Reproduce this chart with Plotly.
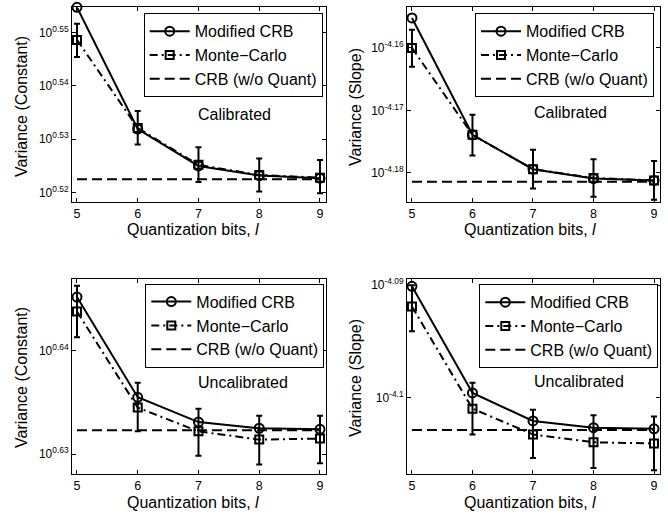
import plotly.graph_objects as go

bits = [5, 6, 7, 8, 9]

# log10 exponents
cal_const_mod = [0.5547, 0.5319, 0.5250, 0.5232, 0.5227]
cal_const_mc = [0.5486, 0.5321, 0.5252, 0.5233, 0.5228]
cal_const_hi = [0.5516, 0.5353, 0.5285, 0.5264, 0.5261]
cal_const_lo = [0.5454, 0.5290, 0.5220, 0.5202, 0.5199]
cal_const_crb = 0.5225

cal_slope_mod = [-4.1552, -4.1739, -4.1794, -4.1809, -4.1812]
cal_slope_mc = [-4.1600, -4.1739, -4.1794, -4.1808, -4.1812]
cal_slope_hi = [-4.1571, -4.1707, -4.1763, -4.1778, -4.1781]
cal_slope_lo = [-4.1630, -4.1772, -4.1825, -4.1838, -4.1843]
cal_slope_crb = -4.1814

unc_const_mod = [0.6452, 0.6355, 0.6331, 0.6325, 0.6324]
unc_const_mc = [0.6438, 0.6345, 0.6322, 0.6314, 0.6315]
unc_const_hi = [0.6463, 0.6369, 0.6344, 0.6337, 0.6337]
unc_const_lo = [0.6413, 0.6322, 0.62985, 0.6290, 0.6291]
unc_const_crb = 0.6323

unc_slope_mod = [-4.0901, -4.0996, -4.1021, -4.1027, -4.1028]
unc_slope_mc = [-4.0919, -4.1010, -4.1033, -4.1040, -4.1041]
unc_slope_hi = [-4.0900, -4.0987, -4.1011, -4.1016, -4.1017]
unc_slope_lo = [-4.0941, -4.1033, -4.1054, -4.1063, -4.1065]
unc_slope_crb = -4.1029

cal_const_ticks = [0.52, 0.53, 0.54, 0.55]
cal_slope_ticks = [-4.18, -4.17, -4.16]
unc_const_ticks = [0.63, 0.64]
unc_slope_ticks = [-4.1, -4.09]

series_names = ["Modified CRB", "Monte\u2212Carlo", "CRB (w/o Quant)"]
panel_labels = ["Calibrated", "Calibrated", "Uncalibrated", "Uncalibrated"]
y_titles = ["Variance (Constant)", "Variance (Slope)", "Variance (Constant)", "Variance (Slope)"]
x_title = "Quantization bits, <i>l</i>"

W, H = 668, 514
FONT = "Liberation Sans, Arial, sans-serif"

panels = [
    dict(mod=cal_const_mod, mc=cal_const_mc, hi=cal_const_hi, lo=cal_const_lo, crb=cal_const_crb,
         ticks=cal_const_ticks, rng=[0.5183, 0.5547], px=(72, 326), py=(7.3, 201.7),
         leg=(322.7, 13.3), lab=(234, 114), xt=(193, 230), yt=(21, 107)),
    dict(mod=cal_slope_mod, mc=cal_slope_mc, hi=cal_slope_hi, lo=cal_slope_lo, crb=cal_slope_crb,
         ticks=cal_slope_ticks, rng=[-4.1846, -4.1535], px=(407, 660), py=(7.3, 201.7),
         leg=(654, 13.3), lab=(570, 112), xt=(530, 230), yt=(355, 107)),
    dict(mod=unc_const_mod, mc=unc_const_mc, hi=unc_const_hi, lo=unc_const_lo, crb=unc_const_crb,
         ticks=unc_const_ticks, rng=[0.6281, 0.6470], px=(72, 326), py=(278.5, 473.7),
         leg=(324.3, 283.7), lab=(243, 382), xt=(193, 502), yt=(21, 378)),
    dict(mod=unc_slope_mod, mc=unc_slope_mc, hi=unc_slope_hi, lo=unc_slope_lo, crb=unc_slope_crb,
         ticks=unc_slope_ticks, rng=[-4.1068, -4.0894], px=(407, 660), py=(278.5, 473.7),
         leg=(658.3, 284.3), lab=(579, 381), xt=(530, 502), yt=(355, 378)),
]

fig = go.Figure()
layout = dict(
    width=W, height=H, margin=dict(l=0, r=0, t=0, b=0),
    paper_bgcolor="white", plot_bgcolor="white",
    font=dict(family=FONT, color="black"),
    showlegend=True,
)
annotations = []

for i, p in enumerate(panels):
    n = i + 1
    xa = "x" if n == 1 else f"x{n}"
    ya = "y" if n == 1 else f"y{n}"
    lg = "legend" if n == 1 else f"legend{n}"
    mod = [10 ** v for v in p["mod"]]
    mc = [10 ** v for v in p["mc"]]
    up = [10 ** h - 10 ** v for h, v in zip(p["hi"], p["mc"])]
    dn = [10 ** v - 10 ** l for l, v in zip(p["lo"], p["mc"])]
    crb = [10 ** p["crb"]] * len(bits)

    fig.add_trace(go.Scatter(
        x=bits, y=mod, name=series_names[0], mode="lines+markers", xaxis=xa, yaxis=ya, legend=lg,
        line=dict(color="black", width=2),
        marker=dict(symbol="circle-open", size=9, color="black", line=dict(width=2)),
        cliponaxis=False))
    fig.add_trace(go.Scatter(
        x=bits, y=mc, name=series_names[1], mode="lines+markers", xaxis=xa, yaxis=ya, legend=lg,
        line=dict(color="black", width=2, dash="8px,4px,2px,4px"),
        marker=dict(symbol="square-open", size=8, color="black", line=dict(width=2)),
        error_y=dict(type="data", array=up, arrayminus=dn, color="black", thickness=2, width=3),
        cliponaxis=False))
    fig.add_trace(go.Scatter(
        x=bits, y=crb, name=series_names[2], mode="lines", xaxis=xa, yaxis=ya, legend=lg,
        line=dict(color="black", width=2, dash="10px,5px")))

    x0, x1 = p["px"]
    yt, yb = p["py"]
    axkey_x = "xaxis" if n == 1 else f"xaxis{n}"
    axkey_y = "yaxis" if n == 1 else f"yaxis{n}"
    layout[axkey_x] = dict(
        domain=[x0 / W, x1 / W], anchor=ya, range=[4.918, 9.099],
        tickvals=bits, ticks="inside", ticklen=4, tickcolor="black",
        showline=True, linecolor="black", linewidth=1, mirror="ticks",
        showgrid=False, zeroline=False, automargin=False,
        tickfont=dict(size=12.5, family=FONT),
    )
    layout[axkey_y] = dict(
        domain=[1 - yb / H, 1 - yt / H], anchor=xa, type="log", range=p["rng"],
        tickvals=[10 ** t for t in p["ticks"]],
        ticktext=[f"10<sup>{t:g}</sup>" for t in p["ticks"]],
        ticks="inside", ticklen=4, tickcolor="black",
        showline=True, linecolor="black", linewidth=1, mirror="ticks",
        showgrid=False, zeroline=False, automargin=False,
        tickfont=dict(size=12, family=FONT),
    )
    lx, ly = p["leg"]
    layout[lg] = dict(
        x=lx / W, y=1 - ly / H, xanchor="right", yanchor="top", xref="paper", yref="paper",
        bgcolor="white", bordercolor="black", borderwidth=1,
        font=dict(size=16, family=FONT), itemwidth=40, tracegroupgap=0,
    )
    ax, ay = p["lab"]
    annotations.append(dict(
        text=panel_labels[i], x=ax / W, y=1 - ay / H, xref="paper", yref="paper",
        showarrow=False, font=dict(size=16, family=FONT), xanchor="center", yanchor="middle"))
    tx, ty = p["xt"]
    annotations.append(dict(
        text=x_title, x=tx / W, y=1 - ty / H, xref="paper", yref="paper",
        showarrow=False, font=dict(size=16, family=FONT), xanchor="center", yanchor="middle"))
    vx, vy = p["yt"]
    annotations.append(dict(
        text=y_titles[i], x=vx / W, y=1 - vy / H, xref="paper", yref="paper", textangle=-90,
        showarrow=False, font=dict(size=16, family=FONT), xanchor="center", yanchor="middle"))

layout["annotations"] = annotations
fig.update_layout(**layout)
fig.write_html("out.html")
